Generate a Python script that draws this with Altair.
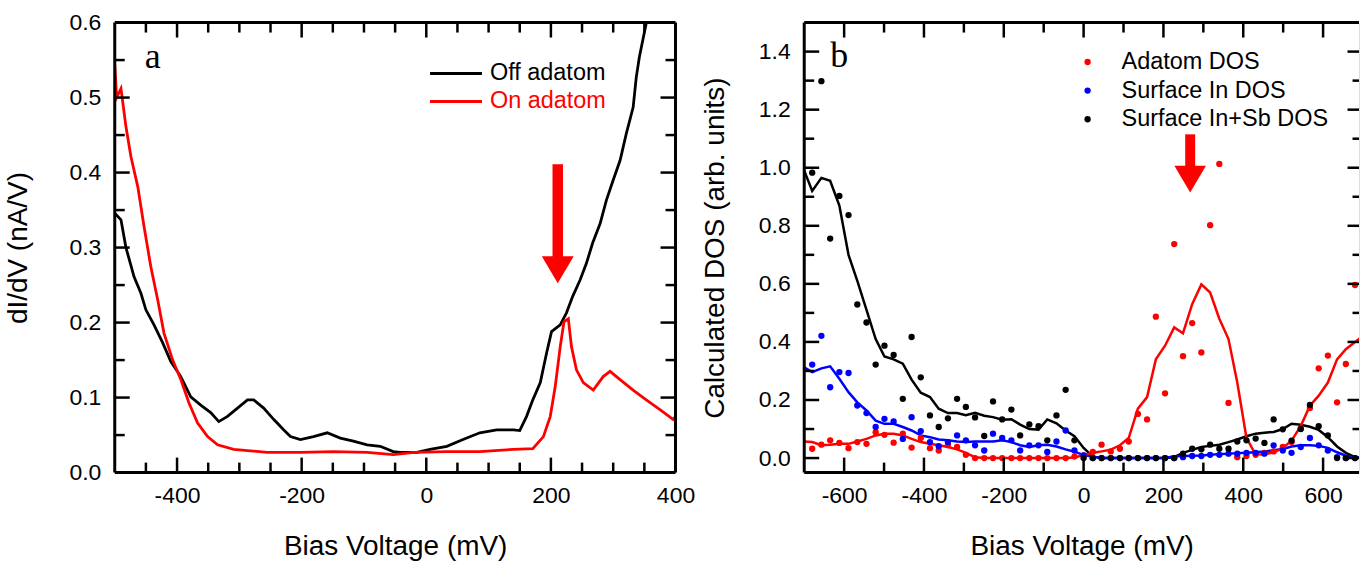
import altair as alt
import pandas as pd

# ---------------- Panel a: measured dI/dV spectra ----------------
off_bias = [-500, -490, -482, -469, -458, -450, -437, -423, -410, -394, -378, -362, -346, -333,
            -319, -303, -287, -277, -261, -245, -229, -218, -202, -181, -159, -138, -117, -95,
            -74, -53, -42, -15, 6, 33, 59, 86, 113, 140, 150, 161, 171, 183, 193, 201, 215, 225,
            235, 247, 257, 267, 279, 289, 300, 311, 321, 332, 337, 342, 353, 362]
off_didv = [0.346, 0.337, 0.300, 0.261, 0.239, 0.217, 0.197, 0.173, 0.148, 0.128, 0.101, 0.090,
            0.080, 0.068, 0.075, 0.086, 0.097, 0.097, 0.086, 0.071, 0.057, 0.048, 0.044, 0.048,
            0.053, 0.046, 0.042, 0.037, 0.035, 0.028, 0.027, 0.027, 0.031, 0.035, 0.044, 0.053,
            0.057, 0.057, 0.056, 0.075, 0.097, 0.120, 0.159, 0.188, 0.197, 0.213, 0.235, 0.257,
            0.279, 0.306, 0.332, 0.363, 0.390, 0.416, 0.452, 0.487, 0.527, 0.554, 0.599, 0.650]
on_bias = [-500, -497, -490, -482, -474, -463, -453, -442, -431, -421, -407, -394, -381, -367,
           -351, -335, -309, -255, -202, -149, -95, -53, -20, 33, 86, 140, 171, 188, 199, 207,
           215, 221, 228, 233, 241, 252, 268, 284, 295, 311, 332, 353, 375, 396, 400]
on_didv = [0.545, 0.500, 0.512, 0.461, 0.421, 0.381, 0.328, 0.274, 0.230, 0.186, 0.150, 0.124,
           0.093, 0.066, 0.048, 0.037, 0.031, 0.027, 0.027, 0.028, 0.027, 0.024, 0.027, 0.028,
           0.028, 0.031, 0.032, 0.048, 0.075, 0.115, 0.168, 0.201, 0.205, 0.168, 0.137, 0.120,
           0.110, 0.128, 0.135, 0.124, 0.110, 0.097, 0.084, 0.071, 0.075]
a_series = ["Off adatom", "On adatom"]
a_colors = ["#000000", "#ff0000"]
a_arrow_bias = 211
a_arrow_top, a_arrow_base, a_arrow_mid = 0.411, 0.282, 0.2705

a_x_labels = [-400, -200, 0, 200, 400]
a_y_labels = [0.0, 0.1, 0.2, 0.3, 0.4, 0.5, 0.6]
a_x_major = [-400, -200, 0, 200]
a_x_minor = [-450, -350, -300, -250, -150, -100, -50, 50, 100, 150, 250, 300, 350]
a_y_major = [0.1, 0.2, 0.3, 0.4, 0.5]
a_y_minor = [0.05, 0.15, 0.25, 0.35, 0.45, 0.55]

# ---------------- Panel b: calculated DOS ----------------
dos_bias = [-680, -657, -635, -612, -589, -567, -544, -521, -499, -476, -453, -431, -408, -385,
            -363, -340, -317, -295, -272, -249, -227, -204, -181, -159, -136, -113, -91, -68,
            -45, -23, 0, 23, 45, 68, 91, 113, 136, 159, 181, 204, 227, 249, 272, 295, 317, 340,
            363, 385, 408, 431, 453, 476, 499, 521, 544, 567, 589, 612, 635, 657, 680]
adatom_dos = [0.032, 0.046, 0.061, 0.052, 0.034, 0.055, 0.049, 0.089, 0.080, 0.053, 0.084, 0.036,
              0.069, 0.034, 0.026, 0.045, 0.038, 0.011, 0.0, 0.0, 0.0, 0.0, 0.0, 0.0, 0.0, 0.0,
              0.0, 0.0, 0.0, 0.005,
              0.009,
              0.021, 0.046, 0.023, 0.032, 0.057, 0.152, 0.133, 0.487, 0.223, 0.737, 0.351, 0.465,
              0.364, 0.802, 1.013, 0.190, 0.003, 0.007, 0.011, 0.018, 0.023, 0.038, 0.055, 0.101,
              0.172, 0.309, 0.353, 0.192, 0.324, 0.596]
surf_in_dos = [0.322, 0.421, 0.244, 0.296, 0.293, 0.181, 0.155, 0.107, 0.135, 0.126, 0.066, 0.141,
               0.093, 0.055, 0.041, 0.055, 0.078, 0.061, 0.044, 0.026, 0.084, 0.069, 0.061, 0.026,
               0.044, 0.044, 0.021, 0.057, 0.095, 0.026,
               0.009,
               0.0, 0.0, 0.0, 0.0, 0.0, 0.0, 0.0, 0.0, 0.0, 0.0, 0.003, 0.007, 0.007, 0.011, 0.011,
               0.015, 0.015, 0.018, 0.018, 0.015, 0.044, 0.026, 0.018, 0.038, 0.069, 0.044, 0.026,
               0.003, 0.0, 0.0]
surf_insb_dos = [0.983, 1.298, 0.756, 0.903, 0.837, 0.529, 0.467, 0.322, 0.387, 0.355, 0.204,
                 0.417, 0.278, 0.147, 0.107, 0.137, 0.204, 0.176, 0.140, 0.076, 0.195, 0.133,
                 0.167, 0.078, 0.116, 0.110, 0.061, 0.147, 0.235, 0.061,
                 0.0,
                 0.0, 0.0, 0.0, 0.0, 0.0, 0.0, 0.0, 0.0, 0.0, 0.0, 0.015, 0.032, 0.030, 0.046,
                 0.032, 0.032, 0.057, 0.061, 0.067, 0.052, 0.133, 0.099, 0.060, 0.100, 0.183,
                 0.110, 0.078, 0.0, 0.0, 0.0]

smooth_bias = [-700, -680, -657, -635, -612, -589, -567, -544, -521, -499, -476, -453, -431, -408,
               -385, -363, -340, -317, -295, -272, -249, -227, -204, -181, -159, -136, -113, -91,
               -68, -45, -23, 0, 23, 45, 68, 91, 113, 136, 159, 181, 204, 227, 249, 272, 295,
               317, 340, 363, 385, 408, 431, 453, 476, 499, 521, 544, 567, 589, 612, 635, 657,
               680, 700]
adatom_smooth = [0.057, 0.055, 0.044, 0.046, 0.049, 0.049, 0.057, 0.066, 0.078, 0.084, 0.084,
                 0.078, 0.066, 0.055, 0.049, 0.044, 0.038, 0.030, 0.018, 0.003, 0.0, 0.0, 0.0,
                 0.0, 0.0, 0.0, 0.0, 0.0, 0.0, 0.0, 0.002,
                 0.010,
                 0.018, 0.023, 0.029, 0.044, 0.069, 0.170, 0.210, 0.340, 0.387, 0.450, 0.430,
                 0.530, 0.598, 0.570, 0.480, 0.410, 0.260, 0.070, 0.012, 0.013, 0.020, 0.035,
                 0.060, 0.110, 0.180, 0.215, 0.260, 0.340, 0.375, 0.400,
                 0.420]
surf_in_smooth = [0.313, 0.296, 0.309, 0.316, 0.273, 0.227, 0.192, 0.164, 0.129, 0.118, 0.118,
                  0.107, 0.095, 0.078, 0.072, 0.064, 0.061, 0.057, 0.055, 0.057, 0.057, 0.057,
                  0.061, 0.055, 0.044, 0.038, 0.044, 0.046, 0.040, 0.030, 0.022,
                  0.010,
                  0.005, 0.0, 0.0, 0.0, 0.0, 0.0, 0.0, 0.0, 0.0, 0.006, 0.007, 0.008, 0.009,
                  0.011, 0.014, 0.015, 0.017, 0.018, 0.020, 0.023, 0.027, 0.031, 0.040, 0.044,
                  0.044, 0.042, 0.035, 0.020, 0.008, 0.002,
                  0.0]
surf_insb_smooth = [0.990, 0.920, 0.965, 0.955, 0.870, 0.700, 0.610, 0.510, 0.410, 0.350, 0.340,
                    0.325, 0.270, 0.225, 0.210, 0.170, 0.155, 0.155, 0.148, 0.156, 0.146, 0.141,
                    0.132, 0.134, 0.115, 0.100, 0.098, 0.133, 0.120, 0.095, 0.075,
                    0.035,
                    0.005, 0.0, 0.0, 0.0, 0.0, 0.0, 0.0, 0.0, 0.0, 0.003, 0.018, 0.028, 0.038,
                    0.042, 0.046, 0.055, 0.064, 0.075, 0.084, 0.087, 0.090, 0.100, 0.118, 0.115,
                    0.108, 0.097, 0.072, 0.040, 0.018, 0.003,
                    0.0]
b_series = ["Adatom DOS", "Surface In DOS", "Surface In+Sb DOS"]
b_colors = ["#ff0000", "#0000ff", "#000000"]
b_arrow_bias = 267
b_arrow_top, b_arrow_base, b_arrow_mid = 1.115, 1.0, 0.961

b_x_labels = [-600, -400, -200, 0, 200, 400, 600]
b_y_labels = [0.0, 0.2, 0.4, 0.6, 0.8, 1.0, 1.2, 1.4]
b_x_major = [-600, -400, -200, 0, 200, 400, 600]
b_x_minor = [-500, -300, -100, 100, 300, 500]
b_y_major = [0.0, 0.2, 0.4, 0.6, 0.8, 1.0, 1.2, 1.4]
b_y_minor = [0.1, 0.3, 0.5, 0.7, 0.9, 1.1, 1.3]

# ---------------- helpers ----------------
FONT = "Liberation Sans"
W1, W2, H = 562, 556, 451
MAJ, MIN = 15, 10
LBL, TTL, LEG = 23, 28, 23.5
one = pd.DataFrame({"k": [0]})


def xaxis(values, title):
    return alt.Axis(values=values, title=title, ticks=False, tickSize=0, domain=False, grid=False,
                    labelFont=FONT, labelFontSize=LBL, labelColor="black", labelPadding=12,
                    labelFlush=False, labelOverlap=False, labelExpr="'' + datum.value",
                    titleFont=FONT, titleFontSize=TTL, titleFontWeight="normal",
                    titleColor="black", titlePadding=25)


def yaxis(values, title, tpad):
    return alt.Axis(values=values, title=title, ticks=False, tickSize=0, domain=False, grid=False,
                    labelFont=FONT, labelFontSize=LBL, labelColor="black", labelPadding=14,
                    labelFlush=False, labelOverlap=False, format=".1f",
                    titleFont=FONT, titleFontSize=TTL, titleFontWeight="normal",
                    titleColor="black", titlePadding=tpad)


def frame(W, right=True):
    parts = [
        alt.Chart(one).mark_rule(color="black", strokeWidth=3).encode(
            x=alt.value(0), x2=alt.value(W), y=alt.value(0)),
        alt.Chart(one).mark_rule(color="black", strokeWidth=3).encode(
            x=alt.value(0), x2=alt.value(W), y=alt.value(H)),
        alt.Chart(one).mark_rule(color="black", strokeWidth=3).encode(
            x=alt.value(0), y=alt.value(0), y2=alt.value(H)),
    ]
    if right:
        parts.append(alt.Chart(one).mark_rule(color="black", strokeWidth=3).encode(
            x=alt.value(W), y=alt.value(0), y2=alt.value(H)))
    return parts


def all_ticks(X, Y, W, xmaj, xmin, ymaj, ymin, rmaj, rmin):
    def vt(vals, y0, y1):
        return alt.Chart(pd.DataFrame({"v": vals})).mark_rule(color="black", strokeWidth=2.5).encode(
            x=X("v:Q"), y=alt.value(y0), y2=alt.value(y1))

    def ht(vals, x0, x1):
        return alt.Chart(pd.DataFrame({"v": vals})).mark_rule(color="black", strokeWidth=2.5).encode(
            y=Y("v:Q"), x=alt.value(x0), x2=alt.value(x1))

    return [
        vt(xmaj, H, H - MAJ), vt(xmin, H, H - MIN),
        vt(xmaj, 0, MAJ), vt(xmin, 0, MIN),
        ht(ymaj, 0, MAJ), ht(ymin, 0, MIN),
        ht(ymaj, W, W - rmaj), ht(ymin, W, W - rmin),
    ]


ARROW = "M-1,-0.85L1,-0.85L0,0.85Z"

# ---------------- panel a ----------------
xa_scale = alt.Scale(domain=[-500, 400], nice=False, zero=False)
ya_scale = alt.Scale(domain=[0, 0.6], nice=False, zero=False)
xa_axis = xaxis(a_x_labels, "Bias Voltage (mV)")
ya_axis = yaxis(a_y_labels, "dI/dV (nA/V)", 36)


def XA(f):
    return alt.X(f, scale=xa_scale, axis=xa_axis)


def YA(f):
    return alt.Y(f, scale=ya_scale, axis=ya_axis)


def line_layer(X, Y, xs, ys, color, width=2.5):
    df = pd.DataFrame({"bias": xs, "val": ys})
    return alt.Chart(df).mark_line(strokeWidth=width, clip=True, color=color).encode(
        x=X("bias:Q"), y=Y("val:Q"), order="bias:Q")


def arrow(X, Y, xval, top, base, mid, shaft_w, head_size):
    df = pd.DataFrame({"x": [xval], "top": [top], "base": [base], "mid": [mid]})
    shaft = alt.Chart(df).mark_rule(color="#ff0000", strokeWidth=shaft_w).encode(
        x=X("x:Q"), y=Y("top:Q"), y2="base:Q")
    head = alt.Chart(df).mark_point(shape=ARROW, filled=True, size=head_size, color="#ff0000",
                                    opacity=1, strokeWidth=0).encode(x=X("x:Q"), y=Y("mid:Q"))
    return [shaft, head]


leg_a = []
for i, (name, col) in enumerate(zip(a_series, a_colors)):
    yy = 51 + 28 * i
    leg_a.append(alt.Chart(one).mark_rule(color=col, strokeWidth=3).encode(
        x=alt.value(316), x2=alt.value(368), y=alt.value(yy)))
    leg_a.append(alt.Chart(one).mark_text(text=name, color=col, font=FONT, fontSize=LEG,
                                          align="left", baseline="middle").encode(
        x=alt.value(376), y=alt.value(yy)))
label_a = alt.Chart(one).mark_text(text="a", font="Liberation Serif", fontSize=36, align="left",
                                   baseline="alphabetic", color="black").encode(
    x=alt.value(30), y=alt.value(46))

panel_a = alt.layer(
    line_layer(XA, YA, off_bias, off_didv, a_colors[0], 2.8),
    line_layer(XA, YA, on_bias, on_didv, a_colors[1], 2.8),
    *frame(W1),
    *all_ticks(XA, YA, W1, a_x_major, a_x_minor, a_y_major, a_y_minor, MAJ, MIN),
    *arrow(XA, YA, a_arrow_bias, a_arrow_top, a_arrow_base, a_arrow_mid, 10.5, 1024),
    *leg_a, label_a
).properties(width=W1, height=H)

# ---------------- panel b ----------------
xb_scale = alt.Scale(domain=[-700, 690], nice=False, zero=False)
yb_scale = alt.Scale(domain=[-0.05, 1.5], nice=False, zero=False)
xb_axis = xaxis(b_x_labels, "Bias Voltage (mV)")
yb_axis = yaxis(b_y_labels, "Calculated DOS (arb. units)", 29)


def XB(f):
    return alt.X(f, scale=xb_scale, axis=xb_axis)


def YB(f):
    return alt.Y(f, scale=yb_scale, axis=yb_axis)


def dot_layer(xs, ys, color):
    df = pd.DataFrame({"bias": xs, "val": ys})
    return alt.Chart(df).mark_circle(size=40, opacity=1, color=color, clip=True).encode(
        x=XB("bias:Q"), y=YB("val:Q"))


leg_b = []
for i, (name, col) in enumerate(zip(b_series, b_colors)):
    yy = 39.5 + 28.7 * i
    leg_b.append(alt.Chart(one).mark_circle(color=col, size=40, opacity=1).encode(
        x=alt.value(284), y=alt.value(yy)))
    leg_b.append(alt.Chart(one).mark_text(text=name, color="black", font=FONT, fontSize=LEG,
                                          align="left", baseline="middle").encode(
        x=alt.value(318), y=alt.value(yy)))
label_b = alt.Chart(one).mark_text(text="b", font="Liberation Serif", fontSize=36, align="left",
                                   baseline="alphabetic", color="black").encode(
    x=alt.value(26), y=alt.value(45))

panel_b = alt.layer(
    line_layer(XB, YB, smooth_bias, surf_insb_smooth, b_colors[2]),
    line_layer(XB, YB, smooth_bias, surf_in_smooth, b_colors[1]),
    line_layer(XB, YB, smooth_bias, adatom_smooth, b_colors[0]),
    dot_layer(dos_bias, adatom_dos, b_colors[0]),
    dot_layer(dos_bias, surf_in_dos, b_colors[1]),
    dot_layer(dos_bias, surf_insb_dos, b_colors[2]),
    *frame(W2, right=False),
    *all_ticks(XB, YB, W2, b_x_major, b_x_minor, b_y_major, b_y_minor, 11.5, 6.5),
    *arrow(XB, YB, b_arrow_bias, b_arrow_top, b_arrow_base, b_arrow_mid, 10, 1000),
    *leg_b, label_b
).properties(width=W2, height=H)

chart = alt.hconcat(panel_a, panel_b, spacing=129, bounds="flush").properties(
    padding={"left": 4, "top": 10, "right": 0, "bottom": 0}
).configure_view(stroke=None).configure(background="white")

chart.save("out.html", embed_options={"renderer": "svg", "actions": False})
